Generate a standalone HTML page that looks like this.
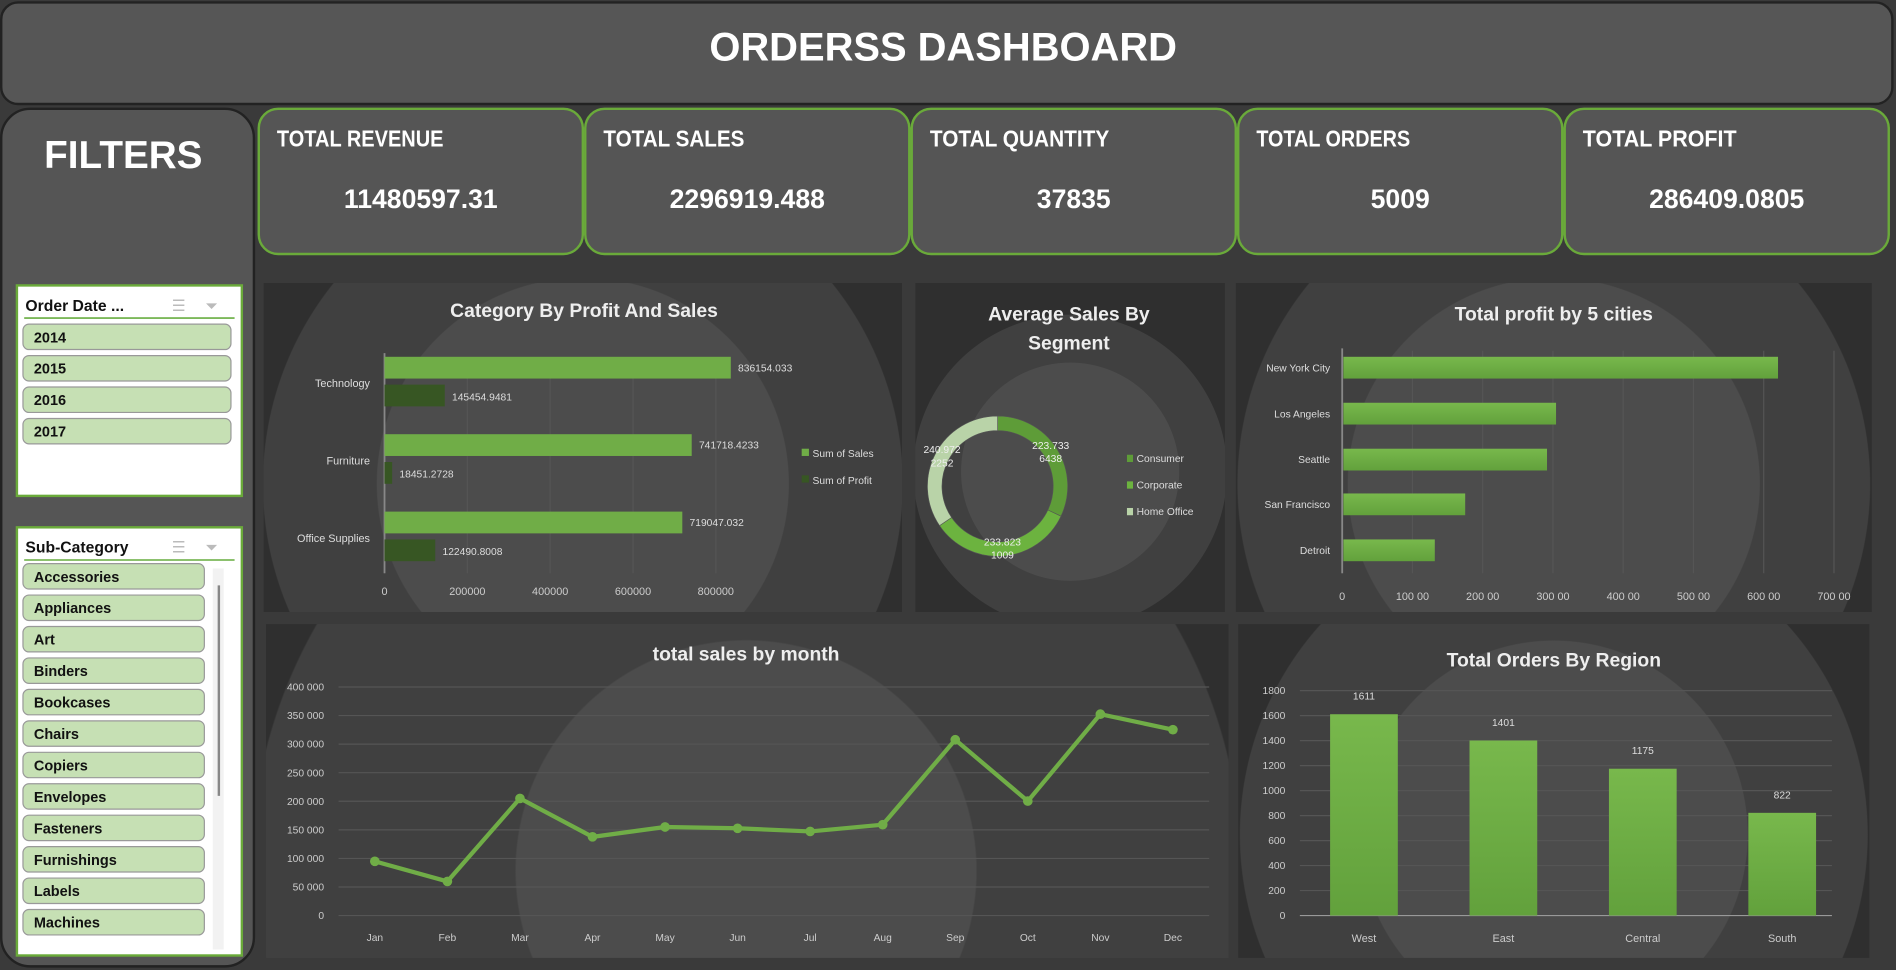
<!DOCTYPE html>
<html><head><meta charset="utf-8">
<style>
html,body{margin:0;padding:0;background:#3a3a3a;overflow:hidden;width:1896px;height:970px}
svg{display:block}
text{font-family:"Liberation Sans",sans-serif}
</style></head>
<body>
<svg id="dash" width="1896" height="970" viewBox="0 0 1568 802" preserveAspectRatio="none" xmlns="http://www.w3.org/2000/svg">
<defs id="defs">
<linearGradient id="bg" x1="0" y1="0" x2="0" y2="1"><stop offset="0" stop-color="#78b84c"/><stop offset="1" stop-color="#62a13c"/></linearGradient>
</defs>
<rect width="1568" height="802" fill="#3a3a3a"/>
<g>
<rect x="1" y="2" width="1564" height="84" rx="14" fill="#565656" stroke="#222" stroke-width="2"/>
<text x="780" y="50" text-anchor="middle" font-size="33" font-weight="bold" fill="#fff">ORDERSS DASHBOARD</text>
</g>
<g>
<rect x="1" y="90" width="209" height="709" rx="24" fill="#555" stroke="#222" stroke-width="2"/>
<text x="102" y="139" text-anchor="middle" font-size="32" font-weight="bold" fill="#fff">FILTERS</text>
</g>
<g id="slicers"></g>
<g id="kpis"></g>
<g id="panels"></g>
<g id="c1"></g><g id="c2"></g><g id="c3"></g><g id="c4"></g><g id="c5"></g>
</svg>
<script>
const NS="http://www.w3.org/2000/svg";
function mk(p,t,a,txt){const e=document.createElementNS(NS,t);for(const k in a)e.setAttribute(k,a[k]);if(txt!==undefined)e.textContent=txt;p.appendChild(e);return e;}
const $=id=>document.getElementById(id);

// data
const kpiLabels=["TOTAL REVENUE","TOTAL SALES","TOTAL QUANTITY","TOTAL ORDERS","TOTAL PROFIT"];
const kpiValues=["11480597.31","2296919.488","37835","5009","286409.0805"];
const years=["2014","2015","2016","2017"];
const subCats=["Accessories","Appliances","Art","Binders","Bookcases","Chairs","Copiers","Envelopes","Fasteners","Furnishings","Labels","Machines"];
const catNames=["Technology","Furniture","Office Supplies"];
const catSales=[836154.033,741718.4233,719047.032];
const catProfit=[145454.9481,18451.2728,122490.8008];
const catTicks=[0,200000,400000,600000,800000];
const segNames=["Consumer","Corporate","Home Office"];
const segValues=[223.733,233.823,240.972];
const segLabels=["223.733\n6438","233.823\n1009","240.972\n2252"];
const cityNames=["New York City","Los Angeles","Seattle","San Francisco","Detroit"];
const cityProfit=[62037,30440,29156,17507,13181];
const cityTicks=[0,10000,20000,30000,40000,50000,60000,70000];
const months=["Jan","Feb","Mar","Apr","May","Jun","Jul","Aug","Sep","Oct","Nov","Dec"];
const monthSales=[94925,59751,205005,137762,155029,152718,147238,159044,307650,200323,352461,325294];
const monthTicks=[0,50000,100000,150000,200000,250000,300000,350000,400000];
const regions=["West","East","Central","South"];
const regionOrders=[1611,1401,1175,822];
const regionTicks=[0,200,400,600,800,1000,1200,1400,1600,1800];

// KPI cards
const kx=[214,484,754,1024,1294];
kpiLabels.forEach((l,i)=>{
 const g=mk($('kpis'),'g',{});
 
 
 mk(g,'rect',{x:kx[i],y:90,width:268,height:120,rx:16,fill:'#555',stroke:'#6aaa3a','stroke-width':2});
 mk(g,'text',{x:kx[i]+15,y:121,'font-size':19,'font-weight':'bold',fill:'#fff',textLength:(l.length*10.6),lengthAdjust:'spacingAndGlyphs'},l);
 mk(g,'text',{x:kx[i]+134,y:172,'text-anchor':'middle','font-size':22,'font-weight':'bold',fill:'#fff'},kpiValues[i]);
});

// slicers
function slicer(name,title,y,h,items,iw,step,y0){
 const g=mk($('slicers'),'g',{});
 
 
 mk(g,'rect',{x:14,y:y,width:186,height:h,fill:'#fff',stroke:'#6aaa3a','stroke-width':2});
 mk(g,'text',{x:21,y:y+21,'font-size':13,'font-weight':'bold',fill:'#111','font-family':'DejaVu Sans Mono, monospace'},title);
 mk(g,'text',{x:142,y:y+21,'font-size':13,fill:'#bbb'},'☰');
 mk(g,'text',{x:170,y:y+21,'font-size':13,fill:'#bbb'},'⏷');
 mk(g,'line',{x1:20,x2:194,y1:y+27,y2:y+27,stroke:'#7cb85a','stroke-width':1.5});
 items.forEach((it,i)=>{
  const b=mk(g,'g',{});
  
  
  mk(b,'rect',{x:19,y:y0+i*step,width:iw,height:21,rx:5,fill:'#c6e0b4',stroke:'#999','stroke-width':1});
  mk(b,'text',{x:28,y:y0+i*step+15,'font-size':12,'font-weight':'bold',fill:'#111','font-family':'DejaVu Sans Mono, monospace'},it);
 });
 return g;
}
slicer('order-date-slicer','Order Date ...',236,174,years,172,26,268);
const s2=slicer('sub-category-slicer','Sub-Category',436,354,subCats,150,26,466);
mk(s2,'rect',{x:176,y:470,width:9,height:315,fill:'#f2f2f2'});
mk(s2,'line',{x1:181,x2:181,y1:484,y2:658,stroke:'#888','stroke-width':2});

// panels with circular backgrounds (radial gradient, hard stops)
let pid=0;
function panel(name,x,y,w,h,cx,cy,r1,r2){
 const id='rg'+(pid++);
 const rg=mk($('defs'),'radialGradient',{id:id,gradientUnits:'userSpaceOnUse',cx:cx,cy:cy,r:r1});
 const f=r2/r1;
 mk(rg,'stop',{offset:0,'stop-color':'#4c4c4c'});
 mk(rg,'stop',{offset:f,'stop-color':'#4c4c4c'});
 mk(rg,'stop',{offset:f+0.003,'stop-color':'#404040'});
 mk(rg,'stop',{offset:0.997,'stop-color':'#404040'});
 mk(rg,'stop',{offset:1,'stop-color':'#2f2f2f'});
 const g=mk($('panels'),'rect',{x:x,y:y,width:w,height:h,fill:'url(#'+id+')'});
 
 
}
panel('category-chart-panel',218,234,528,272,482,400,265,170);
panel('segment-chart-panel',757,234,256,272,885,390,130,90);
panel('city-chart-panel',1022,234,526,272,1285,400,262,170);
panel('month-chart-panel',220,516,796,276,617,720,410,190);
panel('region-chart-panel',1024,516,522,276,1285,690,260,160);
function title(g,x,y,t,name){const e=mk(g,'text',{x:x,y:y,'text-anchor':'middle','font-size':16,'font-weight':'bold',fill:'#eee'},t);return e;}

// chart 1
(function(){
 const g=$('c1');
 title(g,483,262,'Category By Profit And Sales','category-chart-title');
 const X=v=>318+v*274/800000;
 const yc=[304,368,432];
 catTicks.forEach(t=>{
  mk(g,'line',{x1:X(t),x2:X(t),y1:296,y2:474,stroke:'#555','stroke-width':1});
  mk(g,'text',{x:X(t),y:492,'text-anchor':'middle','font-size':9,fill:'#ccc'},t);
 });
 mk(g,'line',{x1:318,x2:318,y1:292,y2:474,stroke:'#888','stroke-width':1.5});
 catNames.forEach((c,i)=>{
  mk(g,'text',{x:306,y:yc[i]+16,'text-anchor':'end','font-size':9,fill:'#ddd'},c);
  const b=mk(g,'rect',{x:318,y:yc[i]-9,width:X(catSales[i])-318,height:18,fill:'#70ad47'});
  
  
  mk(g,'text',{x:X(catSales[i])+6,y:yc[i]+3,'font-size':8.5,fill:'#ddd'},catSales[i]);
  const p=mk(g,'rect',{x:318,y:yc[i]+14,width:Math.max(X(catProfit[i])-318,3),height:18,fill:'#375623'});
  
  
  mk(g,'text',{x:Math.max(X(catProfit[i]),321)+6,y:yc[i]+27,'font-size':8.5,fill:'#ddd'},catProfit[i]);
 });
 const lg=[['Sum of Sales','#70ad47',375],['Sum of Profit','#375623',397]];
 lg.forEach(l=>{const e=mk(g,'g',{});
  mk(e,'rect',{x:663,y:l[2]-4,width:6,height:6,fill:l[1]});mk(e,'text',{x:672,y:l[2]+3,'font-size':8.5,fill:'#ddd'},l[0]);});
})();

// chart 2 donut
(function(){
 const g=$('c2');
 title(g,884,265,'Average Sales By','segment-chart-title');
 title(g,884,289,'Segment','segment-chart-title-2');
 const cx=825,cy=402,R=58,r=46,tot=segValues.reduce((a,b)=>a+b,0);
 const cols=['#5e9c38','#6cb33f','#b9d3a8'];
 let a0=0;
 segValues.forEach((v,i)=>{
  const a1=a0+v/tot*2*Math.PI;
  const p=(rad,a)=>[cx+rad*Math.sin(a),cy-rad*Math.cos(a)];
  const [x1,y1]=p(R,a0),[x2,y2]=p(R,a1),[x3,y3]=p(r,a1),[x4,y4]=p(r,a0);
  const lf=(a1-a0)>Math.PI?1:0;
  const s=mk(g,'path',{d:`M${x1},${y1}A${R},${R} 0 ${lf} 1 ${x2},${y2}L${x3},${y3}A${r},${r} 0 ${lf} 0 ${x4},${y4}Z`,fill:cols[i],stroke:'#555','stroke-width':0.5});
  
  
  const am=(a0+a1)/2,[lx,ly]=p(52,am);
  segLabels[i].split('\n').forEach((t,j)=>mk(g,'text',{x:lx,y:ly-3+j*11,'text-anchor':'middle','font-size':8.5,fill:'#eee'},t));
  a0=a1;
 });
 segNames.forEach((n,i)=>{const e=mk(g,'g',{});
  mk(e,'rect',{x:932,y:376+i*22,width:5,height:6,fill:cols[i]});mk(e,'text',{x:940,y:382+i*22,'font-size':8.5,fill:'#ddd'},n);});
})();

// chart 3
(function(){
 const g=$('c3');
 title(g,1285,265,'Total profit by 5 cities','city-chart-title');
 const X=v=>1110+v*58.1/10000;
 const yc=[304,342,380,417,455];
 cityTicks.forEach(t=>{
  mk(g,'line',{x1:X(t),x2:X(t),y1:290,y2:474,stroke:'#555','stroke-width':1});
  mk(g,'text',{x:X(t),y:496,'text-anchor':'middle','font-size':9,fill:'#ccc'},t===0?'0':(t/1000)+'0 00');
 });
 mk(g,'line',{x1:1110,x2:1110,y1:288,y2:474,stroke:'#888','stroke-width':1.5});
 cityNames.forEach((c,i)=>{
  mk(g,'text',{x:1100,y:yc[i]+3,'text-anchor':'end','font-size':8.5,fill:'#ddd'},c);
  const b=mk(g,'rect',{x:1111,y:yc[i]-9,width:X(cityProfit[i])-1111,height:18,fill:'url(#bg)'});
  
  
 });
})();

// chart 4 line
(function(){
 const g=$('c4');
 title(g,617,546,'total sales by month','month-chart-title');
 const Y=v=>757-v*189/400000, X=i=>310+i*60;
 monthTicks.forEach(t=>{
  mk(g,'line',{x1:280,x2:1000,y1:Y(t),y2:Y(t),stroke:'#555','stroke-width':1});
  const lab=t===0?'0':String(t).replace(/(\d{3})$/,' $1');
  mk(g,'text',{x:268,y:Y(t)+3,'text-anchor':'end','font-size':8.5,fill:'#ccc'},lab);
 });
 months.forEach((m,i)=>mk(g,'text',{x:X(i),y:778,'text-anchor':'middle','font-size':8.5,fill:'#ccc'},m));
 const pts=monthSales.map((v,i)=>X(i)+','+Y(v)).join(' ');
 const l=mk(g,'polyline',{points:pts,fill:'none',stroke:'#70ad47','stroke-width':3.5,'stroke-linejoin':'round'});
 
 
 monthSales.forEach((v,i)=>{const c=mk(g,'circle',{cx:X(i),cy:Y(v),r:4,fill:'#70ad47'});
  
  });
})();

// chart 5 columns
(function(){
 const g=$('c5');
 title(g,1285,551,'Total Orders By Region','region-chart-title');
 const Y=v=>757-v*186/1800, X=i=>1128+i*115.3;
 regionTicks.forEach(t=>{
  mk(g,'line',{x1:1075,x2:1515,y1:Y(t),y2:Y(t),stroke:t?'#555':'#999','stroke-width':1});
  mk(g,'text',{x:1063,y:Y(t)+3,'text-anchor':'end','font-size':8.5,fill:'#ccc'},t);
 });
 regions.forEach((r,i)=>{
  const b=mk(g,'rect',{x:X(i)-28,y:Y(regionOrders[i]),width:56,height:757-Y(regionOrders[i]),fill:'url(#bg)'});
  
  
  mk(g,'text',{x:X(i),y:Y(regionOrders[i])-12,'text-anchor':'middle','font-size':8.5,fill:'#ddd'},regionOrders[i]);
  mk(g,'text',{x:X(i),y:779,'text-anchor':'middle','font-size':9,fill:'#ccc'},r);
 });
})();
</script>
</body></html>
